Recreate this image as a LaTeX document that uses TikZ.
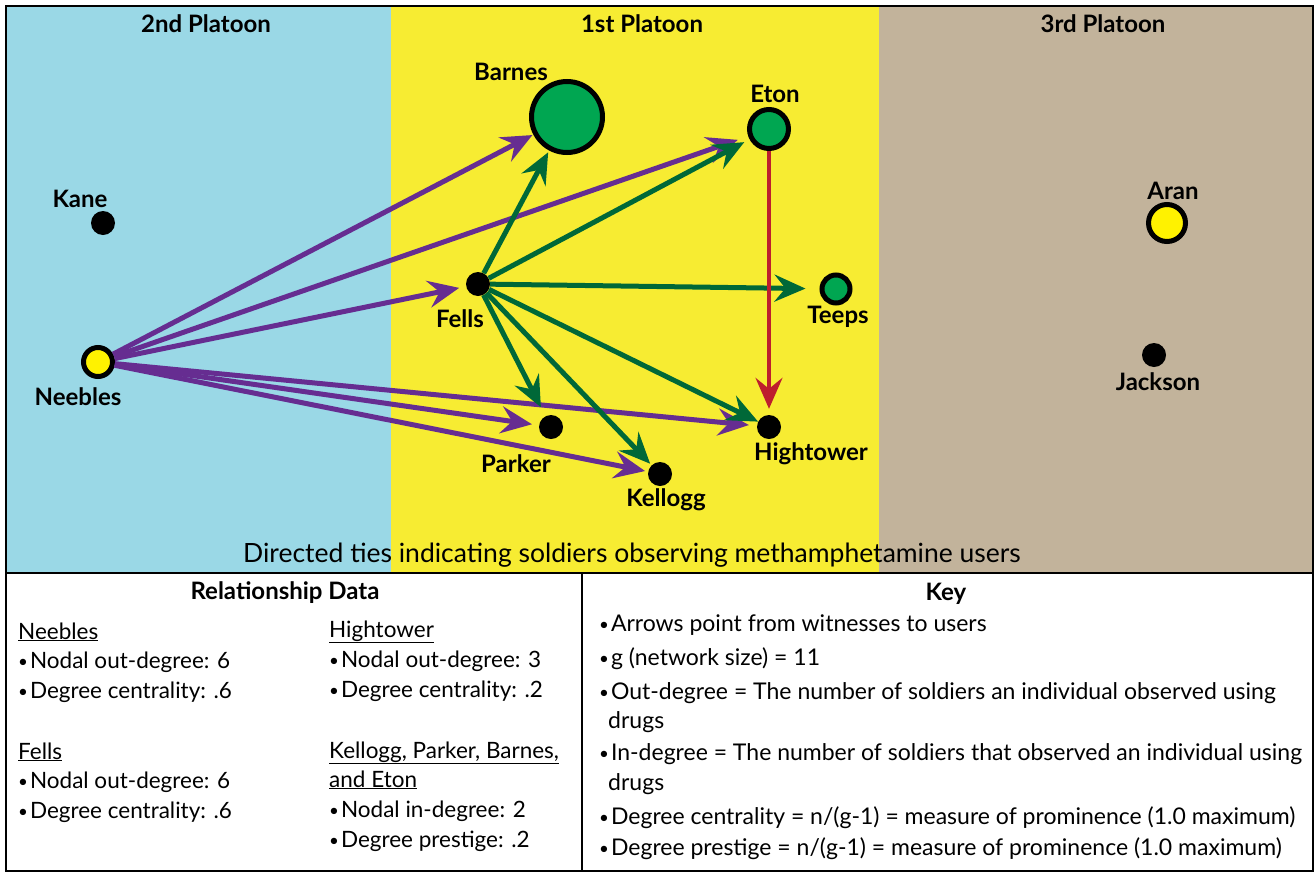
\documentclass[tikz,border=0pt]{standalone}
\usepackage{fontspec}
\setmainfont{Lato}
\usetikzlibrary{arrows.meta}
\definecolor{skyP}{RGB}{154,216,230}
\definecolor{sunP}{RGB}{247,236,50}
\definecolor{sandP}{RGB}{194,179,155}
\definecolor{purp}{RGB}{102,45,145}
\definecolor{leaf}{RGB}{0,104,56}
\definecolor{user}{RGB}{0,166,81}
\definecolor{blood}{RGB}{190,30,45}
\definecolor{lemon}{RGB}{255,242,0}
\newcommand\bul{\raisebox{0.5pt}{\fontsize{17}{17}\selectfont\textbullet}\hspace{2pt}}
\begin{document}
\begin{tikzpicture}[x=1pt,y=-1pt,
  dot/.style={circle,fill=black,inner sep=0pt,minimum size=24pt},
  ring/.style={circle,draw=black,line width=5pt,inner sep=0pt},
  lbl/.style={font=\fontsize{24}{24}\selectfont\bfseries,inner sep=0pt},
  tie/.style={line width=5pt,-{Stealth[length=31pt,width=27pt,inset=11pt]},shorten >=6pt},
  txt/.style={anchor=base west,inner sep=0pt,font=\fontsize{22.5}{22.5}\selectfont},
  keytxt/.style={txt,font=\fontsize{23}{23}\selectfont},
  head/.style={inner sep=0pt,font=\fontsize{24}{24}\selectfont\bfseries}]
\useasboundingbox (0,0) rectangle (1315,873);
% platoon areas
\fill[skyP] (6,6) rectangle (391,573);
\fill[sunP] (391,6) rectangle (879,573);
\fill[sandP] (879,6) rectangle (1313,573);
\node[lbl] (p2) at (206,24) {2nd Platoon};
\node[lbl] (p1) at (642,24) {1st Platoon};
\node[lbl] (p3) at (1103,24) {3rd Platoon};
% soldiers
\node[dot] (kane) at (103,223) {};
\node[ring,fill=lemon,minimum size=29pt] (neebles) at (98,362) {};
\node[ring,fill=user,minimum size=71pt] (barnes) at (567,117) {};
\node[ring,fill=user,minimum size=39pt] (eton) at (769,129) {};
\node[dot] (fells) at (478,284) {};
\node[ring,fill=user,minimum size=28pt] (teeps) at (836,289) {};
\node[dot] (parker) at (551,427) {};
\node[dot] (kellogg) at (660,474) {};
\node[dot] (hightower) at (769,427) {};
\node[ring,fill=lemon,minimum size=37pt] (aran) at (1167,223) {};
\node[dot] (jackson) at (1154,355) {};
\node[lbl] (kane-l) at (80,199) {Kane};
\node[lbl] (neebles-l) at (78,397) {Neebles};
\node[lbl] (barnes-l) at (511,72) {Barnes};
\node[lbl] (eton-l) at (775,94) {Eton};
\node[lbl] (fells-l) at (460,319) {Fells};
\node[lbl] (teeps-l) at (838,317) {Teeps};
\node[lbl] (parker-l) at (516,464) {Parker};
\node[lbl] (kellogg-l) at (666,500) {Kellogg};
\node[lbl] (hightower-l) at (811,454) {Hightower};
\node[lbl] (aran-l) at (1173,191) {Aran};
\node[lbl] (jackson-l) at (1158,382) {Jackson};
% ties
\foreach \t/\s in {barnes/1,eton/11,fells/7,parker/7,kellogg/3,hightower/8}
  \draw[tie,purp,shorten >=\s pt] (neebles) -- (\t);
\foreach \t/\s in {barnes/2,eton/6,teeps/14,hightower/0,parker/10,kellogg/2}
  \draw[tie,leaf,shorten >=\s pt] (fells) -- (\t);
\draw[tie,blood,line width=3.5pt] (eton) -- (hightower);
\node[font=\fontsize{26.5}{26.5}\selectfont,inner sep=0pt] (caption) at (632,555) {Directed ties indicating soldiers observing methamphetamine users};
% frame
\draw[line width=2.5pt] (6,6) rectangle (1313,871);
\draw[line width=2pt] (6,573) -- (1313,573);
\draw[line width=2pt] (582,573) -- (582,871);
% relationship data
\node[head] (rdata) at (285,593) {Relationship Data};
\node[txt] (h-neebles) at (18,639) {\underline{Neebles}};
\node[txt] (h-fells) at (18,759) {\underline{Fells}};
\node[txt] (h-hightower) at (329,637) {\underline{Hightower}};
\node[txt] (h-kellogg) at (329,758) {\underline{Kellogg, Parker, Barnes,}};
\node[txt] (h-eton) at (329,787) {\underline{and Eton}};
\foreach \y/\t [count=\i] in {668/Nodal out-degree: 6,698/Degree centrality: .6,788/Nodal out-degree: 6,818/Degree centrality: .6}
  \node[txt] (rl-\i) at (18,\y) {\bul\t};
\foreach \y/\t [count=\i] in {667/Nodal out-degree: 3,697/Degree centrality: .2,817/Nodal in-degree: 2,847/Degree prestige: .2}
  \node[txt] (rr-\i) at (329,\y) {\bul\t};
% key
\node[head] (key) at (946,594) {Key};
\foreach \y/\t [count=\i] in {631/{Arrows point from witnesses to users},
    665/{g (network size) = 11},
    699/{Out-degree = The number of soldiers an individual observed using},
    760/{In-degree = The number of soldiers that observed an individual using},
    824/{Degree centrality = n/(g-1) = measure of prominence (1.0 maximum)},
    855/{Degree prestige = n/(g-1) = measure of prominence (1.0 maximum)}}
  \node[keytxt] (k-\i) at (599,\y) {\bul\t};
\node[keytxt] (k-drugs1) at (608,728) {drugs};
\node[keytxt] (k-drugs2) at (608,790) {drugs};
\end{tikzpicture}
\end{document}
